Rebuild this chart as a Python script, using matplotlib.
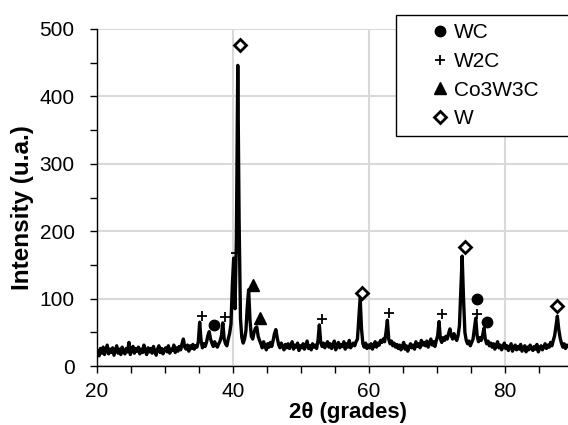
import numpy as np
import matplotlib
matplotlib.use("Agg")
import matplotlib.pyplot as plt
from matplotlib.ticker import MultipleLocator

plt.rcParams["font.family"] = ["Liberation Sans", "DejaVu Sans"]

# diffractogram, 2theta from 20.1 in steps of 0.2
two_theta_start = 20.1
two_theta_step = 0.2
intensity = [
    22, 15, 26, 19, 28, 17, 24, 31, 18, 25,
    20, 27, 16, 23, 30, 19, 25, 17, 28, 22,
    18, 26, 21, 35, 17, 24, 29, 19, 26, 22,
    28, 18, 25, 20, 31, 23, 17, 27, 21, 26,
    19, 29, 22, 16, 25, 30, 20, 26, 18, 24,
    27, 21, 30, 19, 25, 23, 31, 20, 27, 22,
    29, 24, 33, 40, 28, 25, 31, 22, 30, 26,
    32, 25, 30, 28, 36, 65, 38, 27, 33, 29,
    35, 45, 51, 40, 34, 29, 36, 31, 28, 33,
    37, 45, 64, 40, 33, 30, 40, 48, 62, 120,
    160, 85, 190, 446, 215, 70, 42, 34, 40, 52,
    88, 113, 68, 44, 40, 50, 56, 58, 44, 38,
    33, 27, 36, 30, 24, 33, 28, 35, 29, 38,
    48, 54, 42, 32, 27, 34, 29, 24, 32, 27,
    33, 26, 30, 36, 25, 31, 28, 34, 23, 30,
    27, 33, 25, 31, 37, 26, 30, 24, 33, 28,
    31, 26, 38, 61, 35, 29, 34, 27, 32, 36,
    28, 33, 26, 31, 37, 24, 30, 35, 27, 32,
    29, 36, 25, 33, 28, 38, 27, 31, 34, 30,
    36, 40, 70, 101, 55, 33, 28, 34, 26, 31,
    27, 33, 25, 30, 36, 28, 34, 31, 38, 35,
    40, 36, 50, 68, 40, 33, 37, 30, 34, 28,
    32, 26, 31, 24, 29, 35, 25, 30, 22, 28,
    33, 27, 31, 25, 36, 29, 33, 27, 38, 31,
    35, 30, 37, 28, 34, 40, 31, 36, 29, 38,
    45, 66, 40, 35, 42, 38, 44, 40, 48, 55,
    45, 40, 48, 42, 38, 45, 60, 110, 163, 100,
    50, 38, 33, 37, 30, 35, 40, 55, 71, 45,
    36, 42, 38, 45, 56, 40, 33, 37, 30, 34,
    28, 33, 25, 30, 36, 27, 31, 24, 29, 34,
    26, 30, 23, 28, 33, 22, 27, 31, 24, 29,
    25, 32, 22, 27, 30, 21, 28, 24, 31, 26,
    23, 29, 25, 32, 21, 27, 30, 24, 28, 33,
    26, 31, 28, 35, 30, 38, 45, 60, 74, 55,
    42, 34, 28, 33, 26, 31, 29,
]

# phase markers (2theta, intensity)
wc_x = [37.2, 75.9, 77.3]
wc_y = [61, 99, 66]
w2c_x = [35.5, 38.8, 40.4, 53.1, 62.9, 70.7, 75.9]
w2c_y = [74, 73, 167, 69, 78, 77, 77]
co3w3c_x = [42.9, 43.9]
co3w3c_y = [120, 71]
w_x = [41.0, 58.9, 74.1, 87.7]
w_y = [476, 108, 177, 89]

two_theta = two_theta_start + two_theta_step * np.arange(len(intensity))

fig = plt.figure(figsize=(5.68, 4.25), dpi=100)
ax = fig.add_axes([97 / 568, 59 / 425, 471 / 568, 337 / 425])

ax.plot(two_theta, intensity, color="black", lw=2.4, zorder=3)

ax.plot(wc_x, wc_y, "o", ls="none", color="black", ms=7.5, label="WC", zorder=4)
ax.plot(w2c_x, w2c_y, "+", ls="none", color="black", ms=7.5, mew=1.3, label="W2C", zorder=4)
ax.plot(co3w3c_x, co3w3c_y, "^", ls="none", color="black", ms=8, label="Co3W3C", zorder=4)
ax.plot(w_x, w_y, "D", ls="none", mfc="white", mec="black", ms=6, mew=2, label="W", zorder=4)

ax.set_xlim(20, 20 + 471 / 6.8)
ax.set_ylim(0, 500)
ax.xaxis.set_major_locator(MultipleLocator(20))
ax.xaxis.set_minor_locator(MultipleLocator(5))
ax.yaxis.set_major_locator(MultipleLocator(100))
ax.yaxis.set_minor_locator(MultipleLocator(50))
ax.tick_params(which="both", direction="out", length=5, width=1, color="black", labelsize=15)
ax.tick_params(axis="x", pad=6.5)
ax.tick_params(axis="y", pad=11)

ax.grid(True, which="major", color="#d9d9d9", lw=1.5, zorder=0)
ax.set_axisbelow(True)
for s in ["top", "right"]:
    ax.spines[s].set_visible(False)
for s in ["left", "bottom"]:
    ax.spines[s].set_linewidth(1)
    ax.spines[s].set_zorder(5)

ax.set_xlabel("2θ (grades)", fontsize=16, fontweight="bold")
ax.set_ylabel("Intensity (u.a.)", fontsize=17.5, fontweight="bold")
ax.xaxis.set_label_coords((348 - 97) / 471, (366 - 402) / 337)
ax.yaxis.set_label_coords((34 - 97) / 471, (366 - 208) / 337)

leg = ax.legend(loc="upper left", bbox_to_anchor=(396 / 568, 0.05, 0.4, 1 - 15 / 425 - 0.05),
                bbox_transform=fig.transFigure, mode="expand", fontsize=15, borderaxespad=0,
                numpoints=1, handlelength=3.4, handletextpad=-1.0, labelspacing=0.46,
                borderpad=0.4, fancybox=False, framealpha=1, edgecolor="black")
leg.get_frame().set_linewidth(1)

fig.savefig("out.png", dpi=100)
